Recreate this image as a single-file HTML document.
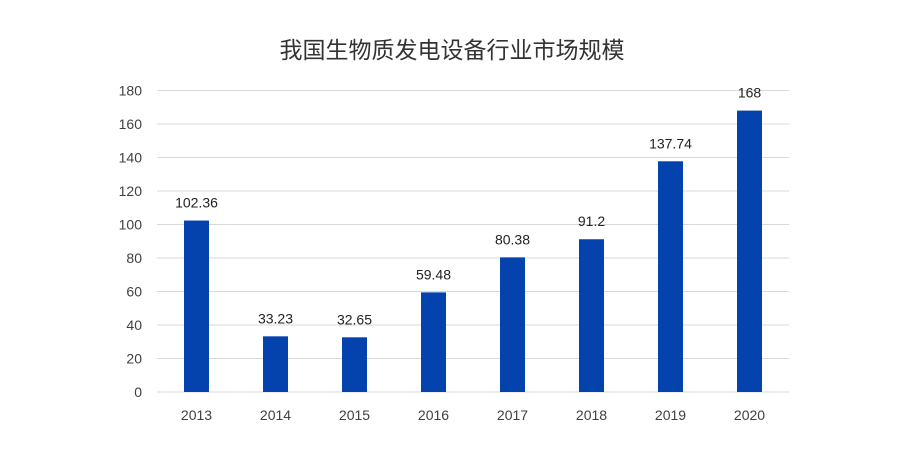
<!DOCTYPE html>
<html><head><meta charset="utf-8"><style>
body{margin:0;background:#fff;}
svg{display:block;font-family:"Liberation Sans","Noto Sans CJK SC",sans-serif;}
</style></head><body>
<svg id="chart" width="900" height="450">
<text x="452" y="58" text-anchor="middle" font-size="23" fill="#333">我国生物质发电设备行业市场规模</text>
<g id="grid"></g><g id="bars"></g>
</svg>
<script>
const categories=["2013","2014","2015","2016","2017","2018","2019","2020"];
const values=[102.36,33.23,32.65,59.48,80.38,91.2,137.74,168];
const labels=["102.36","33.23","32.65","59.48","80.38","91.2","137.74","168"];
const ticks=[0,20,40,60,80,100,120,140,160,180];
const L=157,R=789,T=90.5,B=392,max=180;
const y=v=>B-(v/max)*(B-T);
const bw=(R-L)/categories.length;
const x=i=>L+bw*(i+0.5);
const ns="http://www.w3.org/2000/svg";
const g=document.getElementById('grid'),bg=document.getElementById('bars');
function mk(t,a,p){const e=document.createElementNS(ns,t);for(const k in a)e.setAttribute(k,a[k]);p.appendChild(e);return e;}
ticks.forEach(t=>{
 const l=mk('line',{x1:L,x2:R,y1:y(t),y2:y(t),stroke:'#d9d9d9','stroke-width':1},g);
 
 
 const tx=mk('text',{x:142,y:y(t)+5,'text-anchor':'end','font-size':14,fill:'#404040'},g);
 tx.textContent=t;
 
 
});
categories.forEach((c,i)=>{
 const r=mk('rect',{x:x(i)-12.5,y:y(values[i]),width:25,height:B-y(values[i]),fill:'#0443AE'},bg);
 
 
 const v=mk('text',{x:x(i),y:y(values[i])-13,'text-anchor':'middle','font-size':14,fill:'#222'},bg);
 v.textContent=labels[i];
 
 
 const ct=mk('text',{x:x(i),y:420,'text-anchor':'middle','font-size':14,fill:'#404040'},bg);
 ct.textContent=c;
 
 
});
</script>
</body></html>
